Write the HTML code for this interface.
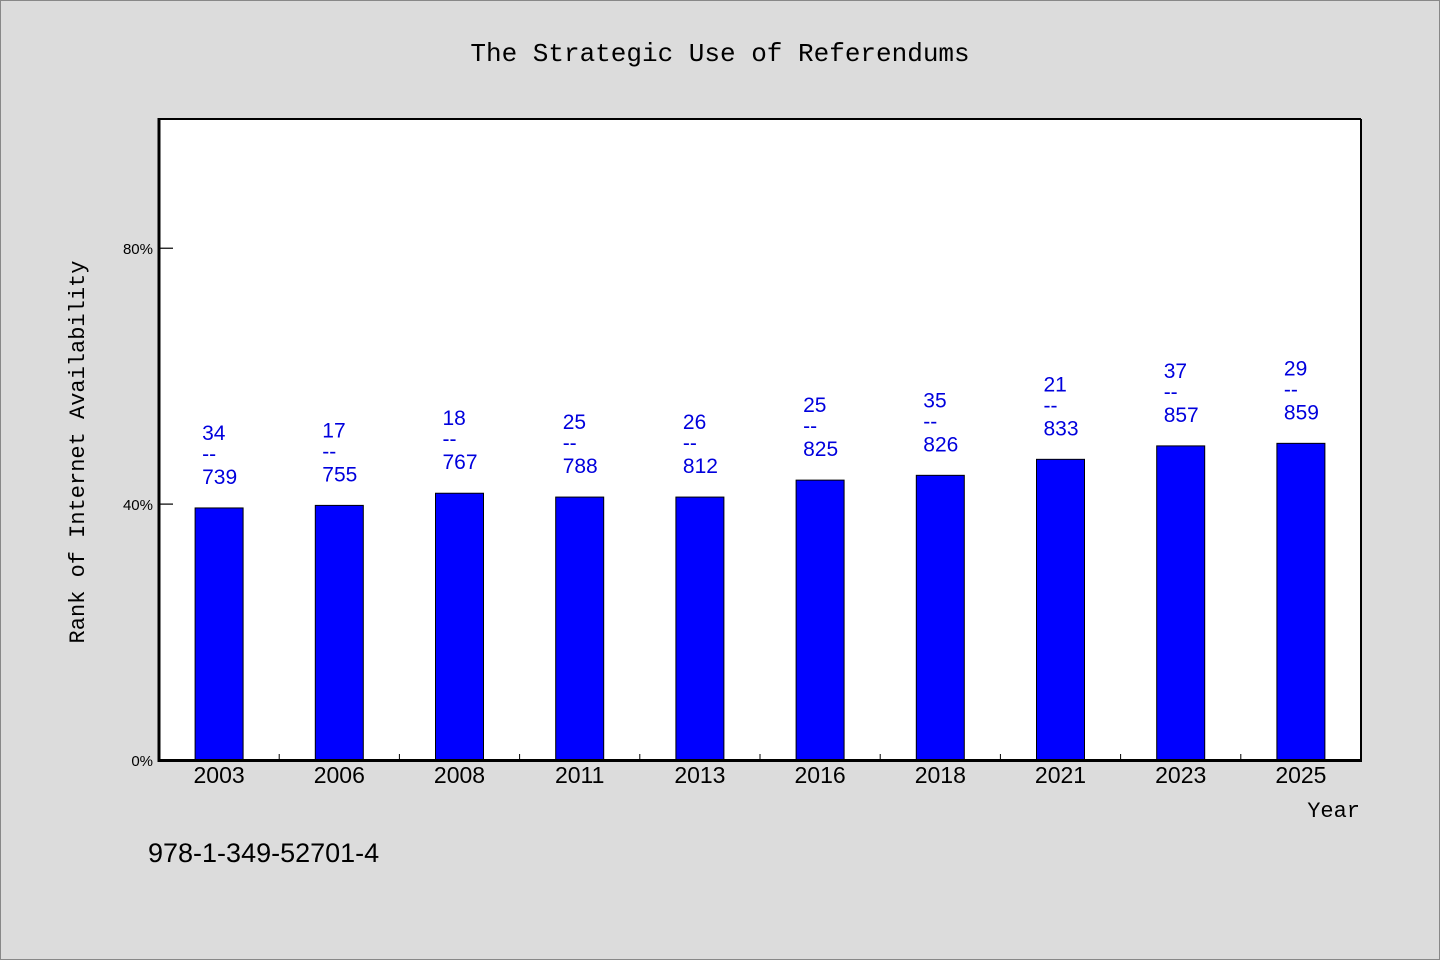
<!DOCTYPE html>
<html><head><meta charset="utf-8"><style>
body{margin:0;background:#dcdcdc;}
svg{display:block;font-family:"Liberation Sans","Noto Sans CJK SC",sans-serif;}
</style></head><body>
<svg id="c" width="1440" height="960">
<rect x="0.5" y="0.5" width="1439" height="959" fill="#dcdcdc" stroke="#888"/>
<text x="720" y="61" text-anchor="middle" font-size="26" font-family="Liberation Mono, monospace">The Strategic Use of Referendums</text>
<rect x="159" y="119" width="1202" height="641" fill="#fff"/>
<g id="marks"></g>
<line x1="159" y1="119" x2="1361" y2="119" stroke="#000" stroke-width="2"/>
<line x1="1361" y1="119" x2="1361" y2="761" stroke="#000" stroke-width="2"/>
<line x1="159" y1="118" x2="159" y2="762" stroke="#000" stroke-width="3"/>
<line x1="158" y1="760.5" x2="1362" y2="760.5" stroke="#000" stroke-width="3"/>
<text transform="translate(84,452) rotate(-90)" text-anchor="middle" font-size="22" font-family="Liberation Mono, monospace">Rank of Internet Availability</text>
<text x="1360" y="817" text-anchor="end" font-size="22" font-family="Liberation Mono, monospace">Year</text>
<text x="148" y="862" font-size="27">978-1-349-52701-4</text>
</svg>
<script>
const categories=["2003","2006","2008","2011","2013","2016","2018","2021","2023","2025"];
const values=[39.4,39.8,41.7,41.1,41.1,43.75,44.5,47.0,49.1,49.5];
const topLabels=["34","17","18","25","26","25","35","21","37","29"];
const bottomLabels=["739","755","767","788","812","825","826","833","857","859"];
const yTicks=[0,40,80];
const X0=159,X1=1361,Y0=760,Y1=119,YMAX=100.2;
const NS="http://www.w3.org/2000/svg";
const g=document.getElementById('marks');
const band=(X1-X0)/categories.length;
function xc(i){return X0+band*(i+0.5);}
function y(v){return Y0-(Y0-Y1)*v/YMAX;}
function mk(t,a){const e=document.createElementNS(NS,t);for(const k in a)e.setAttribute(k,a[k]);g.appendChild(e);return e;}
yTicks.forEach(v=>{
  const l=mk('line',{x1:X0,x2:X0+14,y1:y(v),y2:y(v),stroke:'#000','stroke-width':1.2});
  
  
  const t=mk('text',{x:X0-6,y:y(v)+6,'text-anchor':'end','font-size':15});
  t.textContent=v+'%';
  
  
});
categories.forEach((c,i)=>{
  if(i>0){const tk=mk('line',{x1:X0+band*i,x2:X0+band*i,y1:Y0-6,y2:Y0,stroke:'#000','stroke-width':1});
  
  }
  const top=y(values[i]);
  const b=mk('rect',{x:xc(i)-24,y:top,width:48,height:Y0-top,fill:'#0000ff',stroke:'#000','stroke-width':1});
  
  
  const xl=mk('text',{x:xc(i),y:783,'text-anchor':'middle','font-size':23});
  xl.textContent=c;
  
  
  const lx=xc(i)-17;
  const t1=mk('text',{x:lx,y:top-68,'font-size':21,fill:'#0000dd'});
  t1.textContent=topLabels[i];
  
  
  const t2=mk('text',{x:lx,y:top-47,'font-size':21,fill:'#0000dd'});
  t2.textContent='--';
  
  
  const t3=mk('text',{x:lx,y:top-24,'font-size':21,fill:'#0000dd'});
  t3.textContent=bottomLabels[i];
  
  
});
</script>
</body></html>
